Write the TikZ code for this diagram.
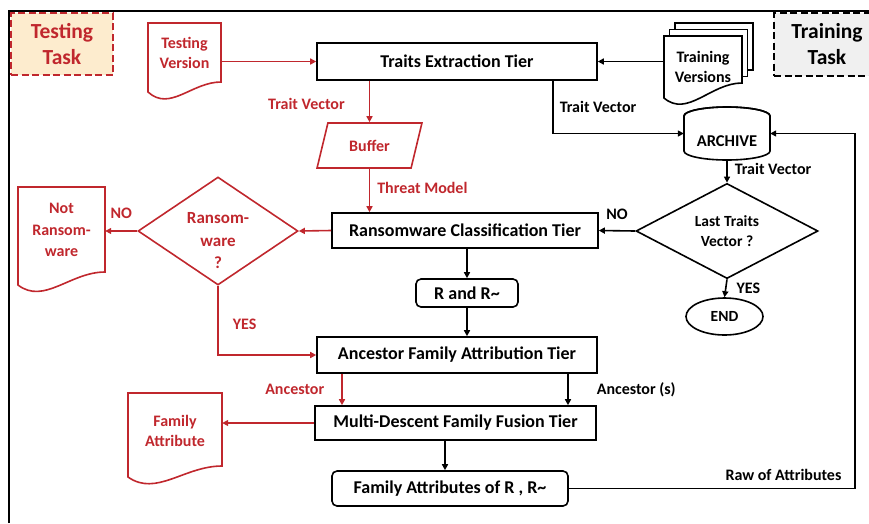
\documentclass[tikz,border=0pt]{standalone}
\usepackage{fontspec}
\setmainfont{Carlito}
\usetikzlibrary{arrows.meta,shapes.geometric,calc,backgrounds}

\definecolor{flowred}{RGB}{192,39,45}
\definecolor{taskorange}{RGB}{253,236,206}
\definecolor{taskgray}{RGB}{240,240,240}

% Document outline: node, half width, top, right-bottom and left-bottom offsets from the node centre
\newcommand\docoutline[6]{%
  \draw[#6] ([shift={(-#2,#3)}]#1.center) -- ([shift={(#2,#3)}]#1.center)
    -- ([shift={(#2,#4)}]#1.center)
    .. controls ([shift={(0.2*#2,#4)}]#1.center) and ([shift={(-0.4*#2,#5+20)}]#1.center)
    .. ([shift={(-#2,#5)}]#1.center) -- cycle;}

\begin{document}
\begin{tikzpicture}[x=1pt,y=-1pt,
  font=\bfseries,
  blk/.style={line width=1.6pt,draw=black},
  rd/.style={line width=1.6pt,draw=flowred},
  tier/.style={blk,rectangle,inner sep=0pt,font=\bfseries\fontsize{18}{20}\selectfont},
  rtier/.style={tier,rounded corners=5pt},
  doctext/.style={align=center,inner sep=0pt,font=\bfseries\fontsize{16}{20}\selectfont},
  lbl/.style={inner sep=0pt,font=\bfseries\fontsize{16}{18}\selectfont},
  rlbl/.style={lbl,text=flowred},
  barr/.style={blk,-{Triangle[length=6pt,width=6pt]}},
  rarr/.style={rd,-{Triangle[length=6pt,width=6pt]}},
  taskbox/.style={dash pattern=on 7pt off 3.5pt,line width=1.6pt,align=center,
                  font=\bfseries\fontsize{21.5}{26}\selectfont},
]
\useasboundingbox (0,0) rectangle (869,523);

% outer frame
\draw[line width=1.3pt] (9,523) -- (9,11) -- (869,11);

% task badges
\node[taskbox,draw=flowred,fill=taskorange,minimum width=102pt,minimum height=62pt,text=flowred] (testtask) at (62,44) {Testing\\Task};
\node[taskbox,draw=black,fill=taskgray,minimum width=106pt,minimum height=63pt] (traintask) at (827,44.5) {Training\\Task};

% documents
\node[doctext,text=flowred,minimum width=73pt] (tv) at (184.5,53) {Testing\\Version};
\node[doctext,minimum width=78pt] (trv) at (703,67) {Training\\Versions};
\node[doctext,text=flowred,minimum width=87pt,font=\bfseries\fontsize{16}{21.5}\selectfont] (nr) at (61.5,230) {Not\\Ransom-\\ware};
\node[doctext,text=flowred,minimum width=94pt] (fa) at (175,431) {Family\\Attribute};

\begin{scope}[on background layer]
  \docoutline{tv}{36.5}{-30}{29}{39}{rd}
  \docoutline{nr}{43.5}{-43}{42}{55}{rd}
  \docoutline{fa}{47}{-38}{35}{46}{rd}
  \draw[blk,fill=white] ([shift={(-28,-44)}]trv.center) rectangle ([shift={(50,3)}]trv.center);
  \draw[blk,fill=white] ([shift={(-33.5,-37.5)}]trv.center) rectangle ([shift={(44.5,9.5)}]trv.center);
  \docoutline{trv}{39}{-31}{16}{31}{blk,fill=white}
\end{scope}

% tiers and data nodes
\node[tier,minimum width=280pt,minimum height=37pt] (te) at (457,61.5) {Traits Extraction Tier};
\node[trapezium,trapezium left angle=65,trapezium right angle=115,trapezium stretches=true,
      rd,minimum width=105pt,minimum height=45pt,inner sep=0pt,text=flowred,
      font=\bfseries\fontsize{16}{18}\selectfont] (buf) at (369.5,145.5) {Buffer};
\node[tier,minimum width=266pt,minimum height=35pt] (rc) at (465,230.5) {Ransomware Classification Tier};
\node[rtier,minimum width=102pt,minimum height=28pt] (rr) at (467,293) {R and R\textasciitilde};
\node[tier,minimum width=280pt,minimum height=36pt] (af) at (457,355) {Ancestor Family Attribution Tier};
\node[tier,minimum width=281pt,minimum height=34pt] (mdf) at (455.5,423) {Multi-Descent Family Fusion Tier};
\node[rtier,minimum width=236pt,minimum height=35pt] (fam) at (450,488.5) {Family Attributes of R , R\textasciitilde};

% archive cylinder (the name sits in the body, below the lid)
\node[inner sep=0pt,minimum width=86pt,minimum height=53pt,
      label={[inner sep=0pt,yshift=-8pt,font=\bfseries\fontsize{16.5}{18}\selectfont]center:ARCHIVE}] (arc) at (727,133.5) {};
\begin{scope}[on background layer]
  \draw[blk,fill=white] ([shift={(-43,-17.5)}]arc.center) -- ([shift={(-43,17.5)}]arc.center)
     arc[start angle=180,end angle=360,x radius=43,y radius=-9]
     -- ([shift={(43,-17.5)}]arc.center)
     arc[start angle=0,end angle=180,x radius=43,y radius=-9] -- cycle;
  \draw[blk] ([shift={(-43,-17.5)}]arc.center) arc[start angle=180,end angle=360,x radius=43,y radius=9];
\end{scope}

% decisions
\node[diamond,blk,minimum width=182pt,minimum height=72pt,inner sep=0pt,align=center,
      font=\bfseries\fontsize{15.5}{20}\selectfont] (ltv) at (727,231) {Last Traits\\Vector ?};
\node[diamond,rd,minimum width=160pt,minimum height=108pt,inner sep=0pt,
      label={[inner sep=0pt,yshift=-10pt,align=center,text=flowred,
              font=\bfseries\fontsize{17}{22.5}\selectfont]center:Ransom-\\ware\\?}] (rw) at (218,231) {};
\node[ellipse,blk,minimum width=77pt,minimum height=37pt,inner sep=0pt,
      font=\bfseries\fontsize{15.5}{17}\selectfont] (end) at (724.5,316.5) {END};

\coordinate (loopx) at (855,0);

% testing flow (red)
\draw[rarr] (tv.east |- te.west) -- (te.west);
\draw[rarr] (te.south -| buf.north) -- node[rlbl,pos=0.55,left=24pt] {Trait Vector} (buf.north);
\draw[rarr] (buf.south -| buf.north) -- node[rlbl,pos=0.45,right=7pt] {Threat Model} (rc.north -| buf.north);
\draw[rarr] (rc.west) -- (rw.east);
\draw[rarr] (rw.west) -- node[rlbl,above=12pt] {NO} (nr.east |- rw.west);
\draw[rarr] (rw.south) |- node[rlbl,pos=0.28,right=14pt] {YES} (af.west);
\draw[rarr] ([xshift=-115pt]af.south) -- node[rlbl,midway,left=17pt] {Ancestor} ([xshift=-115pt]af.south |- mdf.north);
\draw[rarr] (mdf.west) -- (fa.east |- mdf.west);

% training flow (black)
\draw[barr] (trv.west |- te.east) -- (te.east);
\draw[barr] ([xshift=96pt]te.south) |- node[lbl,pos=0.25,right=6pt] {Trait Vector} (arc.west);
\draw[barr] (arc.south) -- node[lbl,midway,right=7pt,yshift=2pt] {Trait Vector} (ltv.north);
\draw[barr] (ltv.west) -- node[lbl,midway,above=10pt] {NO} (rc.east);
\draw[barr] (ltv.south) -- node[lbl,midway,right=10pt] {YES} (end.north);
\draw[barr] (rc.south -| rr.north) -- (rr.north);
\draw[barr] (rr.south) -- (rr.south |- af.north);
\draw[barr] ([xshift=111pt]af.south) -- node[lbl,midway,right=28pt] {Ancestor (s)} ([xshift=111pt]af.south |- mdf.north);
\draw[barr] ([xshift=-10.5pt]mdf.south) -- ([xshift=-10.5pt]mdf.south |- fam.north);
\draw[barr] (fam.east) -| node[lbl,pos=0.375,above=7pt] {Raw of Attributes} (loopx |- arc.east) -- (arc.east);
\end{tikzpicture}
\end{document}
